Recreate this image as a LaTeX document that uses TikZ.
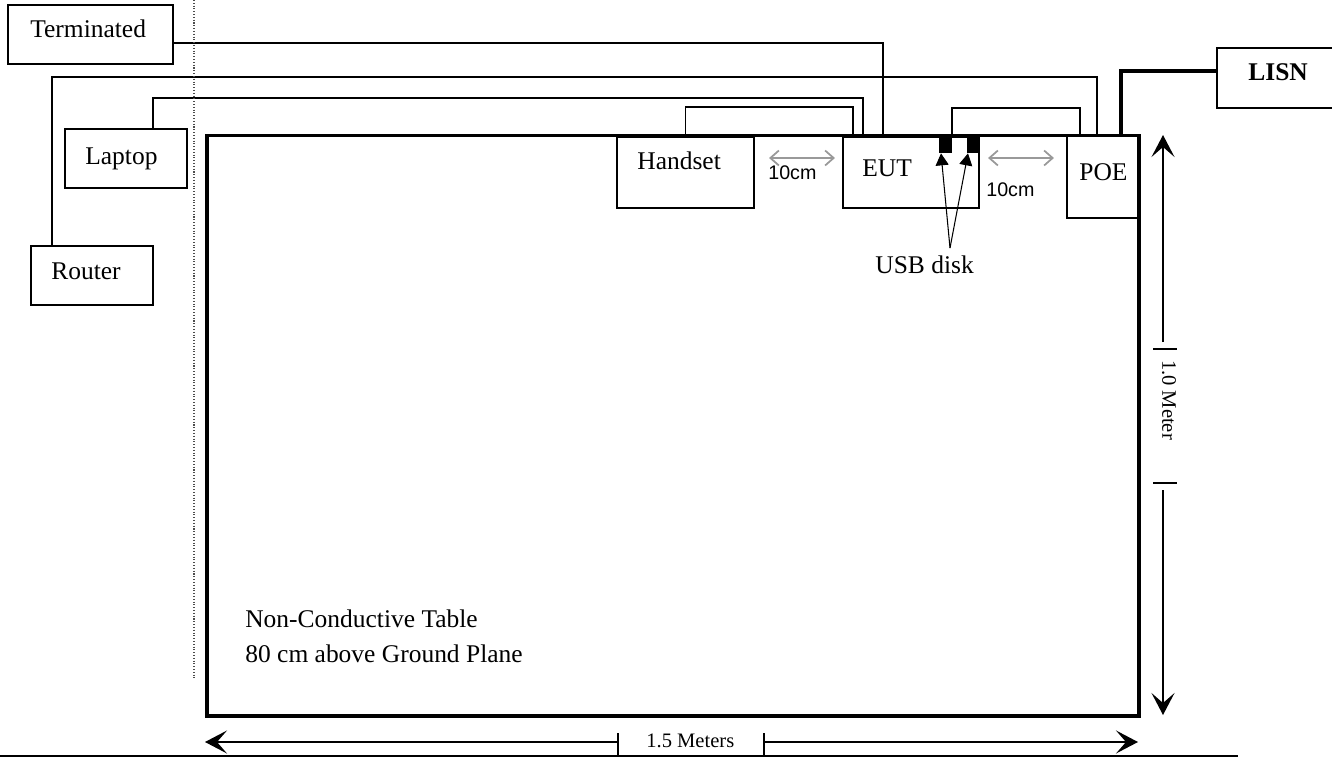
\documentclass[tikz,border=0pt]{standalone}
\usepackage{fontspec}
\setmainfont{Liberation Serif}
\newfontfamily\arialfam{Liberation Sans}
\usetikzlibrary{arrows.meta,positioning,fit,calc}

\begin{document}
\begin{tikzpicture}[x=0.02cm, y=-0.02cm,
dev node/.style={draw, line width=1.2pt, inner sep=0pt},
table node/.style={draw, line width=1.9pt, inner sep=0pt},
usb node/.style={fill=black, inner sep=0pt},
txt/.style={font=\fontsize{14.5}{17}\selectfont, inner sep=0pt, anchor=base west},
dim txt/.style={font=\fontsize{11.7}{14}\selectfont, inner sep=0pt},
gap txt/.style={font=\arialfam\fontsize{11.2}{13}\selectfont, inner sep=0pt, anchor=base west},
cable/.style={line width=1.1pt},
mains cable/.style={line width=2pt},
dim arrow/.style={line width=0.9pt, -{Stealth[length=0.44cm, width=0.46cm, inset=0.2cm]}},
gap arrow/.style={draw=black!40, line width=1pt, {Straight Barb[length=0.17cm, width=0.3cm]}-{Straight Barb[length=0.17cm, width=0.3cm]}},
usb arrow/.style={line width=0.6pt, -{Triangle[length=0.24cm, width=0.26cm]}}]
\useasboundingbox (0,0) rectangle (1332,757);
\clip (0,0) rectangle (1332,757);
% table and devices
\node[table node, fit={(207,135.5) (1139,716)}] (table) {};
\node[dev node, fit={(8,5) (173,64)}] (term) {};
\node[dev node, fit={(65,129) (187,188)}] (laptop) {};
\node[dev node, fit={(31,246) (153,305)}] (router) {};
\node[dev node, fit={(617,137) (754,208)}] (handset) {};
\node[dev node, fit={(843,137) (979,208)}] (eut) {};
\node[dev node, fit={(1067,135) (1138,218)}] (poe) {};
\node[dev node, fit={(1217,48) (1345,108)}] (lisn) {};
\node[usb node, fit={(939,137) (952,153)}] (usb1) {};
\node[usb node, fit={(967,137) (979,153)}] (usb2) {};
% labels
\node[txt] (term txt) at (30,38) {Terminated};
\node[txt] (laptop txt) at (85,164) {Laptop};
\node[txt] (router txt) at (51,279) {Router};
\node[txt] (handset txt) at (637,170) {Handset};
\node[txt] (eut txt) at (862,176) {EUT};
\node[txt] (poe txt) at (1079,180) {POE};
\node[txt, font=\fontsize{14.5}{17}\selectfont\bfseries] (lisn txt) at (1248,81) {LISN};
\node[txt] (usb txt) at (875,273) {USB disk};
\node[txt] (table txt) at (245,627) {Non-Conductive Table};
\node[txt] (ground txt) at (245,662) {80 cm above Ground Plane};
\node[gap txt] (gap1 txt) at (768,179) {10cm};
\node[gap txt] (gap2 txt) at (986,196) {10cm};
\node[dim txt, anchor=base west] (width txt) at (646,747) {1.5 Meters};
\node[dim txt, rotate=-90] (height txt) at (1169,400) {1.0 Meter};
% cables
\draw[cable] ([yshift=-0.17cm]term.east) -| ([xshift=0.82cm]eut.north west);
\draw[cable] ([xshift=-0.8cm]router.north) -- ++(0,-168) -| ([xshift=0.62cm]poe.north west);
\draw[cable] ([xshift=0.54cm]laptop.north) -- ++(0,-30) -| ([xshift=0.42cm]eut.north west);
\draw[cable] (handset.north) -- ++(0,-29) -| ([xshift=0.22cm]eut.north west);
\draw[cable] (usb1.north east) -- ++(0,-29) -| ([xshift=0.28cm]poe.north west);
\draw[mains cable] ([xshift=1.1cm]poe.north west) |- ([yshift=0.14cm]lisn.west);
% spacing and usb pointers
\draw[gap arrow] ($(handset.east)+(14,-14.5)$) -- ($(eut.west)+(-7,-14.5)$);
\draw[gap arrow] ($(eut.east)+(8,-14.5)$) -- ($(poe.west)+(-12,-18.5)$);
\coordinate (usb fork) at (950,248);
\draw[usb arrow] (usb fork) -- ($(usb1.south)+(-4.5,0)$);
\draw[usb arrow] (usb fork) -- ($(usb2.south)+(-5,0)$);
% dimensions
\coordinate (h top) at (1163,135);
\coordinate (h up) at (1163,342);
\coordinate (h down) at (1163,490);
\coordinate (h bot) at (1163,715);
\draw[dim arrow] (h up) -- (h top);
\draw[dim arrow] (h down) -- (h bot);
\draw[line width=0.9pt] (1153,349) -- (1177,349);
\draw[line width=0.9pt] (1153,483) -- (1177,483);
\coordinate (w left) at (205,742);
\coordinate (w tick1) at (618,742);
\coordinate (w tick2) at (764,742);
\coordinate (w right) at (1138,742);
\draw[dim arrow] (w tick1) -- (w left);
\draw[dim arrow] (w tick2) -- (w right);
\draw[line width=0.9pt] (618,733) -- (618,757);
\draw[line width=0.9pt] (764,733) -- (764,757);
% floor line and boundary
\draw[line width=1pt] (0,756) -- (1238,756);
\draw[densely dotted, line width=0.6pt, black!70] (194,0) -- (194,678);
\end{tikzpicture}
\end{document}
